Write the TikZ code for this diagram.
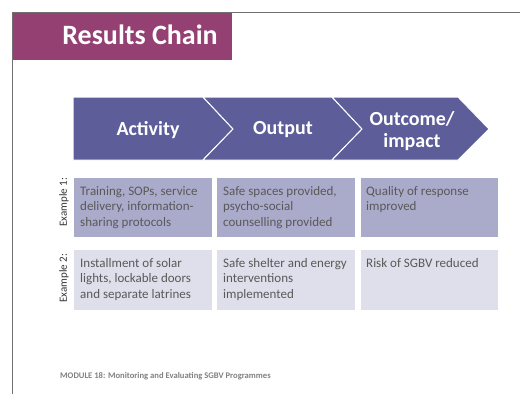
\documentclass[tikz,border=0pt]{standalone}
\usepackage{fontspec}
\setmainfont{Carlito}
\definecolor{titlepurple}{HTML}{944073}
\definecolor{chev}{HTML}{5D5D9A}
\definecolor{rowone}{HTML}{AAAACB}
\definecolor{rowtwo}{HTML}{DFDFEC}
\definecolor{boxtext}{HTML}{595959}
\definecolor{framegray}{HTML}{707070}
\definecolor{foottext}{HTML}{808080}
\tikzset{
  chevshape/.style={fill=chev, draw=white, line width=1pt, line join=miter},
  chevlabel/.style={text=white, font=\fontsize{20}{22}\selectfont\bfseries, align=center, inner sep=0pt},
  cellone/.style={fill=rowone, draw=none},
  celltwo/.style={fill=rowtwo, draw=none},
  celltext/.style={anchor=north west, inner sep=0pt, align=left, text=boxtext, font=\fontsize{13}{15.5}\selectfont},
  exlabel/.style={rotate=90, inner sep=0pt, text=black!80, font=\fontsize{11}{12}\selectfont}
}
\begin{document}
\begin{tikzpicture}[x=1pt,y=-1pt]
\useasboundingbox (0,0) rectangle (520,394);
% frame
\draw[framegray, line width=1pt] (12.5,394) -- (12.5,12) -- (520,12);
% title
\fill[titlepurple] (13,12.5) rectangle (232,60);
\node[text=white, font=\fontsize{28}{30}\selectfont\bfseries, anchor=base, inner sep=0pt] (title) at (140,44) {Results Chain};
% chevrons
\draw[chevshape] (73,97) -- (203,97) -- (233,129) -- (203,160) -- (73,160) -- cycle;
\draw[chevshape] (203,97) -- (332,97) -- (362,129) -- (332,160) -- (203,160) -- (233,129) -- cycle;
\draw[chevshape] (332,97) -- (458,97) -- (489,129) -- (458,160) -- (332,160) -- (362,129) -- cycle;
\node[chevlabel] (activity) at (148,130) {Activity};
\node[chevlabel] (output) at (283,130) {Output};
\node[chevlabel] (outcome) at (412,131) {Outcome/\\impact};
% row 1
\fill[cellone] (74,178) rectangle (212,237);
\fill[cellone] (217,178) rectangle (355,237);
\fill[cellone] (361,178) rectangle (498,237);
% row 2
\fill[celltwo] (74,250) rectangle (212,310);
\fill[celltwo] (217,250) rectangle (355,310);
\fill[celltwo] (361,250) rectangle (498,310);
% texts
\node[celltext] (a1) at (80,186) {Training, SOPs, service\\delivery, information-\\sharing protocols};
\node[celltext] (b1) at (223,186) {Safe spaces provided,\\psycho-social\\counselling provided};
\node[celltext] (c1) at (366,186) {Quality of response\\improved};
\node[celltext] (a2) at (80,258) {Installment of solar\\lights, lockable doors\\and separate latrines};
\node[celltext] (b2) at (223,258) {Safe shelter and energy\\interventions\\implemented};
\node[celltext] (c2) at (366,258) {Risk of SGBV reduced};
\node[exlabel] (ex1) at (64,202) {Example 1:};
\node[exlabel] (ex2) at (64,278) {Example 2:};
% footer
\node[anchor=base west, inner sep=0pt, text=foottext, font=\fontsize{8.6}{10}\selectfont\bfseries] (foot) at (60,378) {MODULE 18: Monitoring and Evaluating SGBV Programmes};
\end{tikzpicture}
\end{document}
